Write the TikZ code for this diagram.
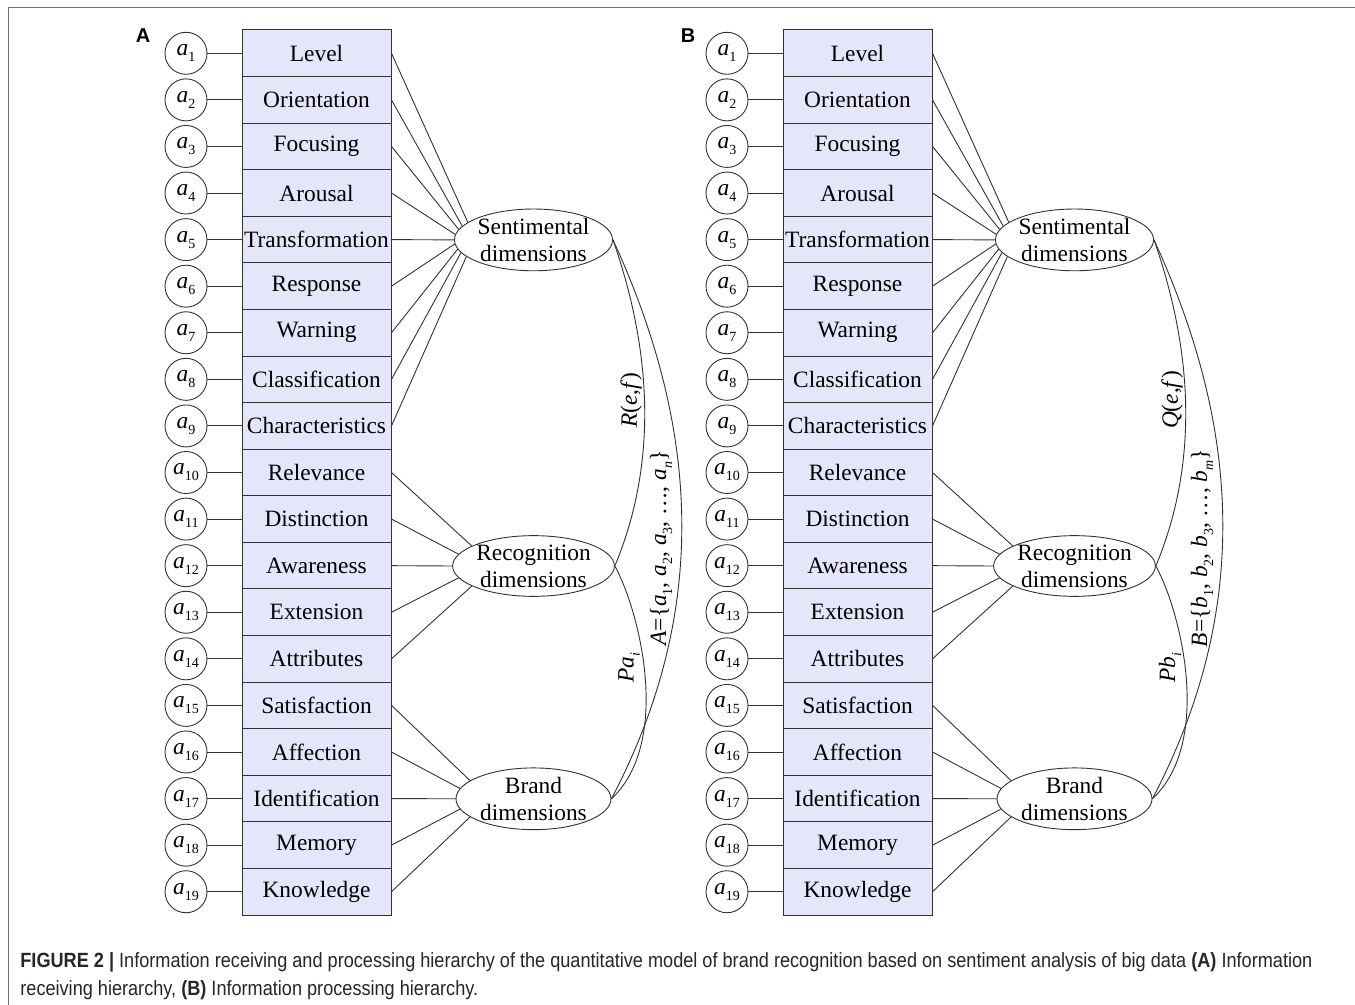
\documentclass[tikz,border=0pt]{standalone}
\usepackage{fontspec}
\setmainfont{Liberation Serif}
\newfontfamily\capfont[FakeStretch=0.88]{Liberation Sans}
\newfontfamily\lblfont{Liberation Sans}
\usetikzlibrary{shapes.geometric}
\definecolor{boxfill}{RGB}{230,230,250}
\definecolor{linegray}{RGB}{50,50,50}
\definecolor{framegray}{RGB}{110,110,110}
\newcommand\avar[2]{\textit{#1}\raisebox{-0.55ex}{\fontsize{7}{8}\selectfont #2}}
\newcommand\mypanel[3]{%
  \begin{scope}[xshift=#2]
    \foreach \t [count=\i] in {Level,Orientation,Focusing,Arousal,Transformation,Response,Warning,Classification,Characteristics,Relevance,Distinction,Awareness,Extension,Attributes,Satisfaction,Affection,Identification,Memory,Knowledge} {
      \node[itembox] (#1b\i) at (316.5, {30+(\i-0.5)*46.58}) {\t};
      \node[varcirc] (#1c\i) at (186, {30+(\i-0.5)*46.58}) {\avar{#3}{\i}};
      \draw[conn] (#1c\i) -- (#1b\i);
    }
    \node[dimell] (#1S) at (533.5, 239.9) {Sentimental\\dimensions};
    \node[dimell] (#1R) at (533.5, 566) {Recognition\\dimensions};
    \node[dimell] (#1B) at (533.5, 798.8) {Brand\\dimensions};
    \foreach \i in {1,...,9} {
      \pgfmathsetmacro\ang{180+(\i-5)*3.6}
      \draw[conn] (#1b\i.east) -- (#1S.\ang);
    }
    \foreach \i in {10,...,14} {
      \pgfmathsetmacro\ang{180+(\i-12)*9}
      \draw[conn] (#1b\i.east) -- (#1R.\ang);
    }
    \foreach \i in {15,...,19} {
      \pgfmathsetmacro\ang{180+(\i-17)*8}
      \draw[conn] (#1b\i.east) -- (#1B.\ang);
    }
    \draw[conn] (#1S.east) .. controls (655,360) and (655,470) .. (#1R.east);
    \draw[conn] (#1R.east) .. controls (640,612) and (672,742) .. (#1B.east);
    \draw[conn] (#1S.east) .. controls (705,440) and (705,620) .. (#1B.east);
  \end{scope}}
\begin{document}
\begin{tikzpicture}[x=0.5pt,y=-0.5pt,
  every node/.style={font=\fontsize{11.7}{13.6}\selectfont},
  itembox/.style={draw=linegray, fill=boxfill, minimum width=74.5pt, minimum height=23.29pt, inner sep=0pt, line width=0.5pt},
  varcirc/.style={draw=linegray, circle, minimum size=21pt, inner sep=0pt, line width=0.45pt},
  dimell/.style={draw=linegray, ellipse, fill=white, minimum width=77.5pt, minimum height=28.5pt, inner sep=0pt, align=center, line width=0.45pt},
  conn/.style={linegray, line width=0.45pt},
  panellbl/.style={font=\lblfont\bfseries\fontsize{10}{12}\selectfont},
  curvelbl/.style={rotate=90, inner sep=0pt},
  caption/.style={anchor=base west, inner sep=0pt, text=black!85, font=\capfont\fontsize{10.3}{12}\selectfont}]
\useasboundingbox (0,0) rectangle (1355,1005);
\draw[framegray, line width=0.5pt] (8,1005) coordinate (f1) -- (8,8) coordinate (f2) -- (1355,8) coordinate (f3);
\node[panellbl] (lA) at (143,36) {A};
\node[panellbl] (lB) at (688,36) {B};
\mypanel{A}{0}{a}
\mypanel{P}{270.5pt}{a}
\node[curvelbl] (rA) at (631,400) {\textit{R}(\textit{e},\textit{f})};
\node[curvelbl] (sA) at (661,548) {\textit{A}=\{\avar{a}{1}, \avar{a}{2}, \avar{a}{3}, \dots, \avar{a}{\textit{n}}\}};
\node[curvelbl] (pA) at (629,668) {\textit{P}\avar{a}{\textit{i}}};
\node[curvelbl] (rB) at (1172,400) {\textit{Q}(\textit{e},\textit{f})};
\node[curvelbl] (sB) at (1202,548) {\textit{B}=\{\avar{b}{1}, \avar{b}{2}, \avar{b}{3}, \dots, \avar{b}{\textit{m}}\}};
\node[curvelbl] (pB) at (1170,668) {\textit{P}\avar{b}{\textit{i}}};
\node[caption] (cap1) at (20,967) {\textbf{FIGURE 2 |} Information receiving and processing hierarchy of the quantitative model of brand recognition based on sentiment analysis of big data \textbf{(A)} Information};
\node[caption] (cap2) at (20,995) {receiving hierarchy, \textbf{(B)} Information processing hierarchy.};
\end{tikzpicture}
\end{document}
